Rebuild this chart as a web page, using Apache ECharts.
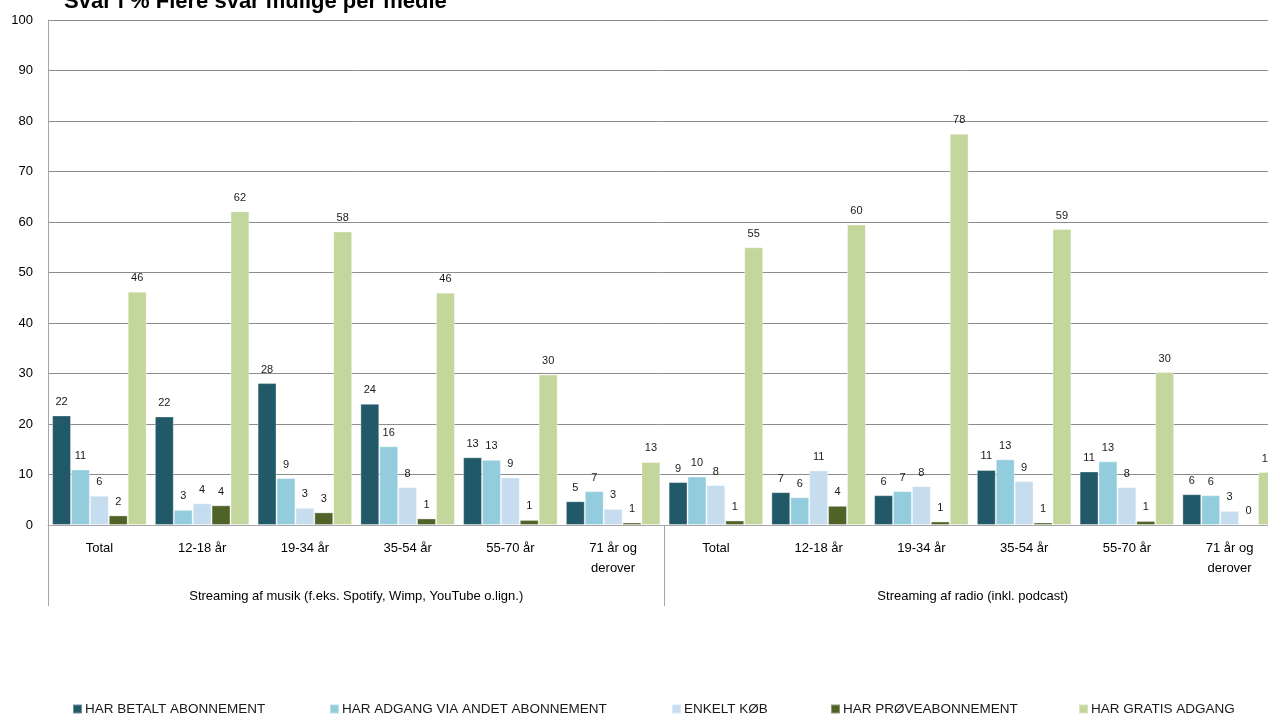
<!DOCTYPE html>
<html>
<head>
<meta charset="utf-8">
<script src="https://cdn.jsdelivr.net/npm/echarts@6/dist/echarts.min.js"></script>
<style>
  html, body { margin: 0; padding: 0; background: #fff; overflow: hidden; }
  #chart { width: 1268px; height: 715px; }
</style>
</head>
<body>
<div id="chart"></div>
<script>
// Age groups, repeated for each streaming medium
const categories = [
  'Total', '12-18 år', '19-34 år', '35-54 år', '55-70 år', '71 år og\nderover',
  'Total', '12-18 år', '19-34 år', '35-54 år', '55-70 år', '71 år og\nderover'
];
const groups = [
  'Streaming af musik (f.eks. Spotify, Wimp, YouTube o.lign.)',
  'Streaming af radio (inkl. podcast)'
];
const seriesNames = [
  'HAR BETALT ABONNEMENT',
  'HAR ADGANG VIA ANDET ABONNEMENT',
  'ENKELT KØB',
  'HAR PRØVEABONNEMENT',
  'HAR GRATIS ADGANG'
];
const yTicks = [0, 10, 20, 30, 40, 50, 60, 70, 80, 90, 100];

// Share in % (music groups first, then radio groups)
const betalt  = [21.7, 21.5, 28.1, 24.0, 13.4, 4.7,   8.5, 6.5, 5.9, 10.9, 10.6, 6.1];
const andet   = [11.0, 3.0, 9.3, 15.6, 12.9, 6.7,     9.6, 5.5, 6.7, 13.0, 12.6, 5.9];
const enkelt  = [5.8, 4.3, 3.4, 7.5, 9.4, 3.2,        7.9, 10.8, 7.7, 8.7, 7.5, 2.8];
const proeve  = [1.9, 3.9, 2.5, 1.3, 1.0, 0.5,        0.9, 3.8, 0.7, 0.5, 0.8, 0.2];
const gratis  = [46.2, 62.1, 58.1, 46.0, 29.8, 12.5,  55.0, 59.5, 77.5, 58.6, 30.3, 10.5];

const colors = ['#215968', '#93CDDD', '#C6DDF0', '#4F6228', '#C3D69B'];
const values = [betalt, andet, enkelt, proeve, gratis];

const FONT = '"Liberation Sans", Arial, sans-serif';
const legendLeft = [72, 329, 671, 830, 1078];

const chart = echarts.init(document.getElementById('chart'), null, { renderer: 'canvas' });

const option = {
  animation: false,
  textStyle: { fontFamily: FONT },
  title: {
    text: 'Svar i % Flere svar mulige per medie',
    left: 64,
    top: -9,
    padding: 0,
    textStyle: { fontFamily: FONT, fontWeight: 'bold', fontSize: 22, color: '#000' }
  },
  legend: seriesNames.map((name, i) => ({
    data: [name],
    left: legendLeft[i],
    top: 702,
    padding: 0,
    itemWidth: 9,
    itemHeight: 9,
    itemGap: 0,
    icon: 'rect',
    selectedMode: false,
    textStyle: { fontFamily: FONT, fontSize: 13.5, color: '#1a1a1a', padding: [0, 0, 0, -2] }
  })),
  // plot area runs past the right edge of the canvas
  grid: {
    left: 48, width: 1233, top: 20, bottom: 190,
    containLabel: false,
    outerBoundsMode: 'none'
  },
  xAxis: [
    {
      type: 'category',
      data: categories,
      position: 'bottom',
      axisLine: { show: true, lineStyle: { color: '#a6a6a6', width: 1 } },
      axisTick: { show: false },
      axisLabel: {
        interval: 0,
        fontFamily: FONT,
        fontSize: 13,
        color: '#000',
        margin: 13,
        lineHeight: 20
      }
    },
    {
      type: 'category',
      data: groups,
      position: 'bottom',
      axisLine: { show: false },
      axisTick: { show: true, length: 81, interval: 0, lineStyle: { color: '#a6a6a6', width: 1 } },
      axisLabel: { interval: 0, fontFamily: FONT, fontSize: 13, color: '#000', margin: 65 }
    }
  ],
  yAxis: {
    type: 'value',
    min: yTicks[0],
    max: yTicks[yTicks.length - 1],
    interval: yTicks[1] - yTicks[0],
    axisLine: { show: true, lineStyle: { color: '#a6a6a6', width: 1 } },
    axisTick: { show: false },
    axisLabel: { fontFamily: FONT, fontSize: 13, color: '#000', margin: 15 },
    splitLine: { show: true, lineStyle: { color: '#8c8c8c', width: 1 } }
  },
  series: seriesNames.map((name, i) => ({
    name: name,
    type: 'bar',
    xAxisIndex: 0,
    data: values[i],
    barGap: '0%',
    barCategoryGap: '8%',
    itemStyle: { color: colors[i], borderColor: 'rgba(255,255,255,0.35)', borderWidth: 1 },
    label: {
      show: true,
      position: 'top',
      distance: 8,
      fontFamily: FONT,
      fontSize: 11,
      color: '#1a1a1a',
      formatter: p => String(Math.round(p.value))
    }
  }))
};

chart.setOption(option);
</script>
</body>
</html>
